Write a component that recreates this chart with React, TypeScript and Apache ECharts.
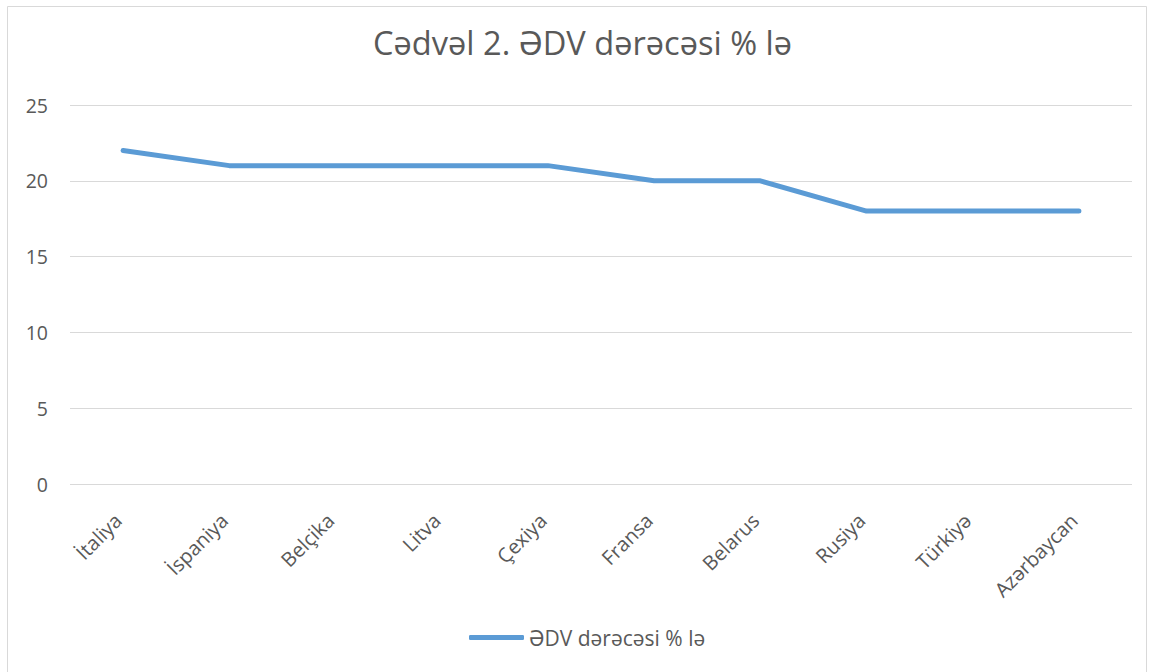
import React, { useEffect, useRef } from "react";
import * as echarts from "echarts";

const categories = ["İtaliya", "İspaniya", "Belçika", "Litva", "Çexiya", "Fransa", "Belarus", "Rusiya", "Türkiyə", "Azərbaycan"];
const values = [22, 21, 21, 21, 21, 20, 20, 18, 18, 18];
const seriesName = "ƏDV dərəcəsi % lə";
const titleText = "Cədvəl 2. ƏDV dərəcəsi % lə";

export default function App() {
  const ref = useRef<HTMLDivElement>(null);
  useEffect(() => {
    if (!ref.current) return;
    const chart = echarts.init(ref.current, null, { renderer: "svg" });
    const font = "'Open Sans', 'Noto Sans', sans-serif";
    chart.setOption({
      animation: false,
      backgroundColor: "#ffffff",
      textStyle: { fontFamily: font },
      title: {
        text: titleText,
        left: 373,
        top: 26,
        padding: 0,
        textStyle: { fontFamily: font, fontSize: 32.6, fontWeight: "normal", color: "#595959" },
      },
      legend: {
        left: 469,
        top: 627,
        padding: 0,
        itemWidth: 55,
        itemHeight: 5,
        itemGap: 10,
        icon: "roundRect",
        data: [{ name: seriesName, icon: "roundRect" }],
        textStyle: { fontFamily: font, fontSize: 21, color: "#595959" },
      },
      grid: { left: 70, right: 18, top: 105, bottom: 188, containLabel: false },
      xAxis: {
        type: "category",
        data: categories,
        boundaryGap: true,
        axisLine: { show: false },
        axisTick: { show: false },
        axisLabel: { rotate: 45, fontSize: 20, color: "#595959", margin: 28, padding: [0, 7, 0, 0], fontFamily: font, interval: 0 },
      },
      yAxis: {
        type: "value",
        min: 0,
        max: 25,
        interval: 5,
        axisLine: { show: false },
        axisTick: { show: false },
        axisLabel: { fontSize: 19.5, color: "#595959", margin: 22, fontFamily: font },
        splitLine: { lineStyle: { color: "#D9D9D9", width: 1 } },
      },
      series: [
        {
          name: seriesName,
          type: "line",
          data: values,
          symbol: "none",
          lineStyle: { color: "#5B9BD5", width: 5, cap: "round", join: "round" },
          itemStyle: { color: "#5B9BD5" },
        },
      ],
      graphic: [
        {
          type: "rect",
          shape: { x: 7.5, y: 6.5, width: 1139, height: 700 },
          style: { fill: "none", stroke: "#D9D9D9", lineWidth: 1 },
          silent: true,
        },
      ],
    });
    return () => chart.dispose();
  }, []);
  return <div ref={ref} style={{ position: "fixed", left: 0, top: 0, width: 1150, height: 672 }} />;
}
